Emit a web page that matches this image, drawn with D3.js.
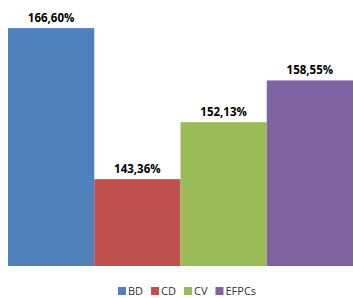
<!DOCTYPE html>
<html><head><meta charset="utf-8">
<script src="https://cdn.jsdelivr.net/npm/d3@7"></script>
<style>body{margin:0;background:#fff}svg{display:block}</style>
</head><body>
<script>
const categories = ["BD","CD","CV","EFPCs"];
const values = [166.60,143.36,152.13,158.55];
const labels = ["166,60%","143,36%","152,13%","158,55%"];
const colors = ["#4F81BD","#C0504D","#9BBB59","#8064A2"];

const W=353,H=298;
const svg=d3.select("body").append("svg").attr("width",W).attr("height",H);
const x=d3.scaleBand().domain(categories).range([8,353]).paddingInner(0).paddingOuter(0);
const y=d3.scaleLinear().domain([130,170]).range([266,6]);

svg.selectAll("rect.bar").data(categories).enter().append("rect")
  .attr("class","bar")
  .attr("x",d=>x(d)).attr("width",x.bandwidth())
  .attr("y",(d,i)=>y(values[i])).attr("height",(d,i)=>y(130)-y(values[i]))
  .attr("fill",(d,i)=>colors[i]);

svg.selectAll("text.lbl").data(categories).enter().append("text")
  .attr("x",d=>x(d)+x.bandwidth()/2)
  .attr("y",(d,i)=>y(values[i])-6)
  .attr("text-anchor","middle")
  .attr("font-family","'Open Sans', sans-serif").attr("font-weight","bold")
  .attr("font-size",11.5).attr("fill","#000")
  .text((d,i)=>labels[i]);

const lg=svg.append("g");
let cx=0;
const items=[];
categories.forEach((c,i)=>{
  const g=lg.append("g");
  g.append("rect").attr("x",0).attr("y",-8).attr("width",8).attr("height",8).attr("fill",colors[i]);
  const t=g.append("text").attr("x",10).attr("y",0)
    .attr("font-family","'Open Sans', sans-serif").attr("font-size",11).attr("fill","#333").text(c);
  const w=10+t.node().getComputedTextLength();
  g.attr("transform",`translate(${cx},0)`);
  cx+=w+8;
});
const total=cx-8;
lg.attr("transform",`translate(${187-total/2},295)`);
</script>
</body></html>
